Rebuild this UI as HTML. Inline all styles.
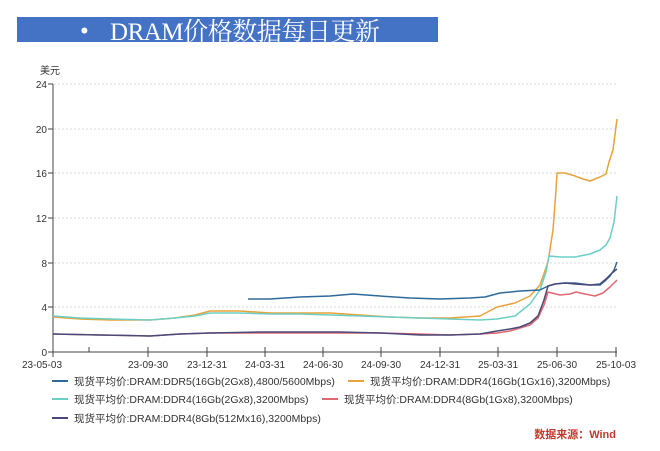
<!DOCTYPE html>
<html><head><meta charset="utf-8"><style>
body{margin:0;background:#fff;width:660px;height:446px;overflow:hidden;font-family:"Liberation Sans","Noto Sans CJK SC",sans-serif}
</style></head><body>
<svg width="660" height="446" xmlns="http://www.w3.org/2000/svg" font-family="Liberation Sans, Noto Sans CJK SC, sans-serif">
<rect x="17" y="17" width="421" height="25" fill="#4472c4"/>
<text x="80" y="39" fill="#fff" font-size="25" font-family="Liberation Serif, Noto Serif CJK SC, serif">•</text>
<text x="110" y="40" fill="#fff" font-size="25" textLength="270" font-family="Liberation Serif, Noto Serif CJK SC, serif">DRAM价格数据每日更新</text>
<text x="40" y="74" font-size="10" fill="#333">美元</text>
<g stroke="#ccc" stroke-dasharray="2,2" stroke-width="0.8">
<line x1="54" x2="617" y1="84" y2="84"/><line x1="54" x2="617" y1="129" y2="129"/><line x1="54" x2="617" y1="173" y2="173"/><line x1="54" x2="617" y1="218" y2="218"/><line x1="54" x2="617" y1="263" y2="263"/><line x1="54" x2="617" y1="307" y2="307"/></g>
<g stroke="#444" stroke-width="1" fill="none">
<line x1="53" y1="84" x2="53" y2="352"/><line x1="53" y1="352" x2="617" y2="352"/>
<line x1="48" x2="53" y1="84" y2="84"/><line x1="48" x2="53" y1="129" y2="129"/><line x1="48" x2="53" y1="173" y2="173"/><line x1="48" x2="53" y1="218" y2="218"/><line x1="48" x2="53" y1="263" y2="263"/><line x1="48" x2="53" y1="307" y2="307"/><line x1="48" x2="53" y1="352" y2="352"/>
<path d="M53 352v5M89 347v5M148 347v10M207 347v10M265 347v10M323 347v10M381 347v10M440 347v10M498 347v10M557 347v10M616 347v10"/>
</g>
<g font-size="10" fill="#333" text-anchor="end">
<text x="47" y="88">24</text><text x="47" y="133">20</text><text x="47" y="177">16</text><text x="47" y="222">12</text><text x="47" y="267">8</text><text x="47" y="311">4</text><text x="47" y="356">0</text></g>
<g font-size="10" fill="#333" text-anchor="middle">
<text x="42" y="368">23-05-03</text><text x="148" y="368">23-09-30</text><text x="207" y="368">23-12-31</text><text x="265" y="368">24-03-31</text><text x="323" y="368">24-06-30</text><text x="381" y="368">24-09-30</text><text x="440" y="368">24-12-31</text><text x="498" y="368">25-03-31</text><text x="557" y="368">25-06-30</text><text x="616" y="368">25-10-03</text></g>
<g fill="none" stroke-width="1.5" stroke-linejoin="round">
<polyline stroke="#e8a23a" points="53,317 80,319 110,320 150,320 175,318 195,315 210,311 240,311 270,313 300,313 330,313 360,315 390,317 420,318 450,318 480,316 497,307 515,303 530,296 540,285 548,262 553,230 556,190 557,173 565,173 575,176 583,179 590,181 600,177 606,174 609,162 613,150 617,119"/>
<polyline stroke="#6ccfc5" points="53,316 80,318 110,319 150,320 175,318 195,316 210,313 240,313 270,314 300,314 330,315 360,316 390,317 420,318 450,319 480,320 497,319 515,316 530,304 540,290 546,272 549,256 560,257 575,257 590,254 600,250 606,245 610,238 614,222 617,196"/>
<polyline stroke="#2e6a99" points="248,299 270,299 300,297 330,296 353,294 380,296 410,298 440,299 470,298 485,297 500,293 520,291 540,290 548,286 555,284 565,283 575,283 590,285 600,285 606,280 610,276 614,270 617,262"/>
<polyline stroke="#e06870" points="53,334 100,335 150,336 180,334 210,333 260,333 300,333 340,333 380,333 420,334 450,335 480,334 497,333 510,331 520,328 530,325 538,318 544,305 548,292 560,295 570,294 576,292 585,294 595,296 603,293 610,287 617,280"/>
<polyline stroke="#4a4a7a" points="53,334 100,335 150,336 180,334 210,333 260,332 300,332 340,332 380,333 420,335 450,335 480,334 497,331 510,329 520,327 530,323 538,316 544,300 548,286 555,284 565,283 575,284 590,285 600,284 606,279 612,273 617,269"/>
</g>
<g font-size="10.5" fill="#333">
<line x1="52" x2="68" y1="381" y2="381" stroke="#2e6a99" stroke-width="2"/><text x="74" y="385">现货平均价:DRAM:DDR5(16Gb(2Gx8),4800/5600Mbps)</text>
<line x1="348" x2="364" y1="381" y2="381" stroke="#e8a23a" stroke-width="2"/><text x="370" y="385">现货平均价:DRAM:DDR4(16Gb(1Gx16),3200Mbps)</text>
<line x1="52" x2="68" y1="399" y2="399" stroke="#6ccfc5" stroke-width="2"/><text x="74" y="403">现货平均价:DRAM:DDR4(16Gb(2Gx8),3200Mbps)</text>
<line x1="322" x2="338" y1="399" y2="399" stroke="#e06870" stroke-width="2"/><text x="344" y="403">现货平均价:DRAM:DDR4(8Gb(1Gx8),3200Mbps)</text>
<line x1="52" x2="68" y1="418" y2="418" stroke="#4a4a7a" stroke-width="2"/><text x="74" y="422">现货平均价:DRAM:DDR4(8Gb(512Mx16),3200Mbps)</text>
</g>
<text x="616" y="438" font-size="11" fill="#c0392b" text-anchor="end" font-weight="bold">数据来源：Wind</text>
</svg>
</body></html>
